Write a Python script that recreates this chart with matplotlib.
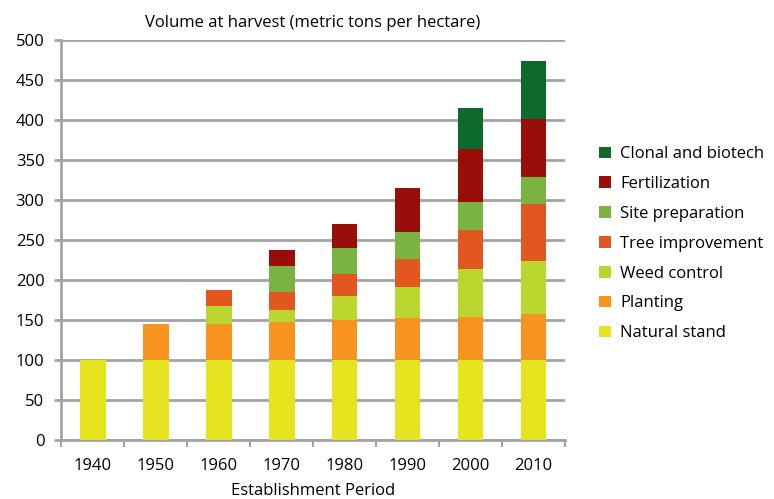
import matplotlib
matplotlib.use("Agg")
import matplotlib.pyplot as plt
import numpy as np

periods = ["1940", "1950", "1960", "1970", "1980", "1990", "2000", "2010"]

natural_stand = [100, 100, 100, 100, 100, 100, 100, 100]
planting = [0, 45, 45, 48, 50, 53, 54, 57]
weed_control = [0, 0, 22, 15, 30, 38, 60, 67]
tree_improvement = [0, 0, 20, 22, 27, 35, 48, 71]
site_preparation = [0, 0, 0, 33, 33, 34, 35, 34]
fertilization = [0, 0, 0, 19, 30, 55, 67, 72]
clonal_biotech = [0, 0, 0, 0, 0, 0, 51, 73]

series = [
    ("Natural stand", natural_stand, "#e6e31f"),
    ("Planting", planting, "#f7931e"),
    ("Weed control", weed_control, "#bcd630"),
    ("Tree improvement", tree_improvement, "#e2561f"),
    ("Site preparation", site_preparation, "#7bb342"),
    ("Fertilization", fertilization, "#9a0e0a"),
    ("Clonal and biotech", clonal_biotech, "#0d6a2c"),
]

plt.rcParams['font.family'] = ['Open Sans', 'DejaVu Sans']
fs = 12

fig = plt.figure(figsize=(7.74, 4.99), dpi=100)
ax = fig.add_axes([0.079, 0.118, 0.651, 0.802])

x = np.arange(len(periods))
bottom = np.zeros(len(periods))
handles = []
for name, vals, col in series:
    h = ax.bar(x, vals, width=0.41, bottom=bottom, color=col, label=name, zorder=3)
    handles.append(h)
    bottom += np.array(vals)

grid_col = "#a3a3a3"
ax.set_xlim(-0.5, len(periods) - 0.5)
ax.set_ylim(0, 500)
ax.set_yticks(np.arange(0, 501, 50))
ax.yaxis.grid(True, color=grid_col, linewidth=2, zorder=0)
ax.set_xticks(x)
ax.set_xticklabels(periods)
ax.set_xticks(np.arange(-0.5, len(periods)), minor=True)
ax.tick_params(axis='x', which='major', length=0, labelsize=fs, pad=13)
ax.tick_params(axis='x', which='minor', length=5, width=1.5, color=grid_col)
ax.tick_params(axis='y', length=5, width=2, color=grid_col, labelsize=fs, pad=7)

for s in ['top', 'right']:
    ax.spines[s].set_visible(False)
for s in ['left', 'bottom']:
    ax.spines[s].set_color(grid_col)
    ax.spines[s].set_linewidth(2)

ax.set_title("Volume at harvest (metric tons per hectare)", fontsize=fs, pad=9)
ax.set_xlabel("Establishment Period", fontsize=fs, labelpad=6)

fig.legend(handles[::-1], [s[0] for s in series][::-1], loc='upper left',
           bbox_to_anchor=(0.755, 0.737), frameon=False, fontsize=fs,
           handlelength=0.7, handleheight=0.7, handletextpad=0.55, labelspacing=0.83)

fig.savefig("out.png", dpi=100)
